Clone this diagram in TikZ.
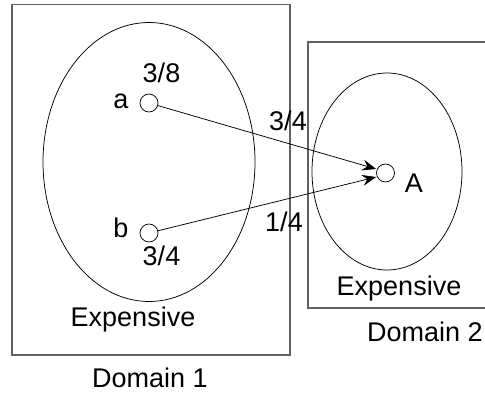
\documentclass[tikz,border=0pt]{standalone}
\usepackage{fontspec}
\setmainfont{Liberation Sans}
\usetikzlibrary{arrows.meta}
\begin{document}
\begin{tikzpicture}[x=1pt,y=-1pt,
  domainbox/.style={draw=black!62, line width=1.1pt},
  setell/.style={draw=black, line width=0.75pt},
  elem/.style={circle, draw=black, line width=0.75pt, minimum size=18pt, inner sep=0pt},
  lbl/.style={anchor=base, inner sep=0pt, font=\fontsize{27}{30}\selectfont},
  edge/.style={draw=black, line width=0.75pt, -{Stealth[length=14pt,width=11pt,inset=5pt]}}]
\useasboundingbox (0,0) rectangle (485,394);
% domains
\draw[domainbox] (12,4.5) rectangle (290,355);
\draw[domainbox] (308,42) rectangle (490,308);
% sets
\draw[setell] (149,162) ellipse [x radius=106, y radius=139.5];
\draw[setell] (387,171.5) ellipse [x radius=75, y radius=98.5];
% elements
\node[elem] (a) at (149,103) {};
\node[elem] (b) at (149,233) {};
\node[elem] (A) at (385.5,173) {};
% labels
\node[lbl] (la) at (121,108) {a};
\node[lbl] (lb) at (121,237) {b};
\node[lbl] (lA) at (414,192) {A};
\node[lbl] (pa) at (161.5,82) {3/8};
\node[lbl] (pb) at (161.5,265) {3/4};
\node[lbl] (w1) at (288,130) {3/4};
\node[lbl] (w2) at (284,231) {1/4};
\node[lbl] (e1) at (133,326) {Expensive};
\node[lbl] (e2) at (399,295) {Expensive};
\node[lbl] (d1) at (150,387) {Domain 1};
\node[lbl] (d2) at (425,341.5) {Domain 2};
% connectors
\coordinate (t1) at ([yshift=4pt]A.west);
\coordinate (t2) at ([yshift=-4pt]A.west);
\draw[edge] (a) -- (t1);
\draw[edge] (b) -- (t2);
\end{tikzpicture}
\end{document}
